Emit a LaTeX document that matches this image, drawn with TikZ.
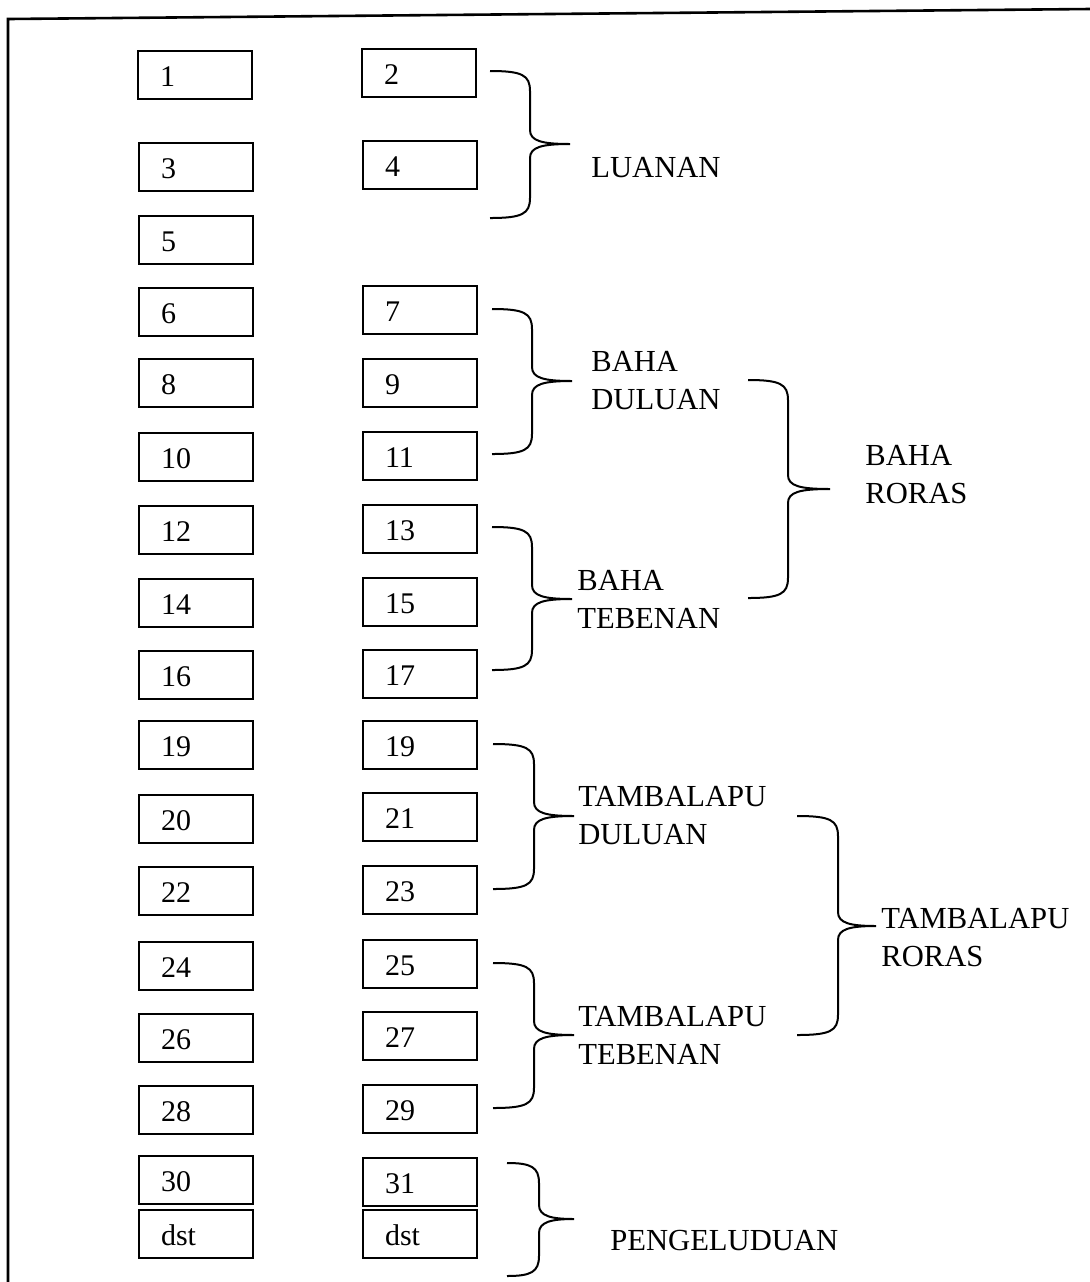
\documentclass[tikz,border=0pt]{standalone}
\usepackage{fontspec}
\setmainfont{Liberation Serif}
\newcommand\curlybrace[7]{% name, end x, spine x, tip x, top y, mid y, bottom y
  \draw[brc] (#2,#5) .. controls ({#3-8},#5) and (#3,{#5+4}) .. (#3,{#5+20})
    -- (#3,{#6-14}) .. controls (#3,{#6-3}) and ({#3+12},#6) .. (#4,#6) coordinate (#1)
    .. controls ({#3+12},#6) and (#3,{#6+3}) .. (#3,{#6+14})
    -- (#3,{#7-20}) .. controls (#3,{#7-4}) and ({#3-8},#7) .. (#2,#7);}
\begin{document}
\begin{tikzpicture}[x=0.5pt,y=-0.5pt,
  numbox/.style={draw, line width=1pt, anchor=north west, minimum width=57pt,
    minimum height=24pt, text width=35pt, inner xsep=11pt, align=left,
    font=\fontsize{15}{17}\selectfont, text height=11.5pt, text depth=0pt},
  lbl/.style={anchor=west, align=left, inner sep=0pt, font=\fontsize{15.3}{19}\selectfont},
  brc/.style={line width=1pt}]
\useasboundingbox (0,0) rectangle (1090,1282);
% frame
\coordinate (fbl) at (8,1282);
\coordinate (ftl) at (8,19);
\coordinate (ftr) at (1090,9);
\draw[line width=1.3pt] (fbl) -- (ftl) -- (ftr);
% left column
\node[numbox] (b1) at (137,50) {1};
\node[numbox] (b3) at (138,142) {3};
\node[numbox] (b5) at (138,215) {5};
\node[numbox] (b6) at (138,287) {6};
\node[numbox] (b8) at (138,358) {8};
\node[numbox] (b10) at (138,432) {10};
\node[numbox] (b12) at (138,505) {12};
\node[numbox] (b14) at (138,578) {14};
\node[numbox] (b16) at (138,650) {16};
\node[numbox] (b18) at (138,720) {19};
\node[numbox] (b20) at (138,794) {20};
\node[numbox] (b22) at (138,866) {22};
\node[numbox] (b24) at (138,941) {24};
\node[numbox] (b26) at (138,1013) {26};
\node[numbox] (b28) at (138,1085) {28};
\node[numbox] (b30) at (138,1155) {30};
\node[numbox] (dstL) at (138,1209) {dst};
% right column
\node[numbox] (b2) at (361,48) {2};
\node[numbox] (b4) at (362,140) {4};
\node[numbox] (b7) at (362,285) {7};
\node[numbox] (b9) at (362,358) {9};
\node[numbox] (b11) at (362,431) {11};
\node[numbox] (b13) at (362,504) {13};
\node[numbox] (b15) at (362,577) {15};
\node[numbox] (b17) at (362,649) {17};
\node[numbox] (b19) at (362,720) {19};
\node[numbox] (b21) at (362,792) {21};
\node[numbox] (b23) at (362,865) {23};
\node[numbox] (b25) at (362,939) {25};
\node[numbox] (b27) at (362,1011) {27};
\node[numbox] (b29) at (362,1084) {29};
\node[numbox] (b31) at (362,1157) {31};
\node[numbox] (dstR) at (362,1209) {dst};
% braces
\curlybrace{tLuanan}{490}{530}{570}{71}{144}{218}
\curlybrace{tBD}{492}{532}{572}{309}{381}{454}
\curlybrace{tBT}{492}{532}{572}{527}{599}{670}
\curlybrace{tBR}{748}{788}{830}{380}{489}{598}
\curlybrace{tTD}{493}{534}{574}{744}{816}{889}
\curlybrace{tTT}{493}{534}{574}{963}{1035}{1108}
\curlybrace{tTR}{797}{838}{876}{816}{926}{1035}
\curlybrace{tPeng}{507}{539}{574}{1163}{1219}{1276}
% labels
\node[lbl] (luanan) at (591,168) {LUANAN};
\node[lbl] (bahaduluan) at (591,381) {BAHA\\DULUAN};
\node[lbl] (bahatebenan) at (577,599) {BAHA\\TEBENAN};
\node[lbl] (baharoras) at (865,475) {BAHA\\RORAS};
\node[lbl] (tambduluan) at (578,816) {TAMBALAPU\\DULUAN};
\node[lbl] (tambtebenan) at (578,1035) {TAMBALAPU\\TEBENAN};
\node[lbl] (tambroras) at (881,938) {TAMBALAPU\\RORAS};
\node[lbl] (pengeluduan) at (610,1241) {PENGELUDUAN};
\end{tikzpicture}
\end{document}
